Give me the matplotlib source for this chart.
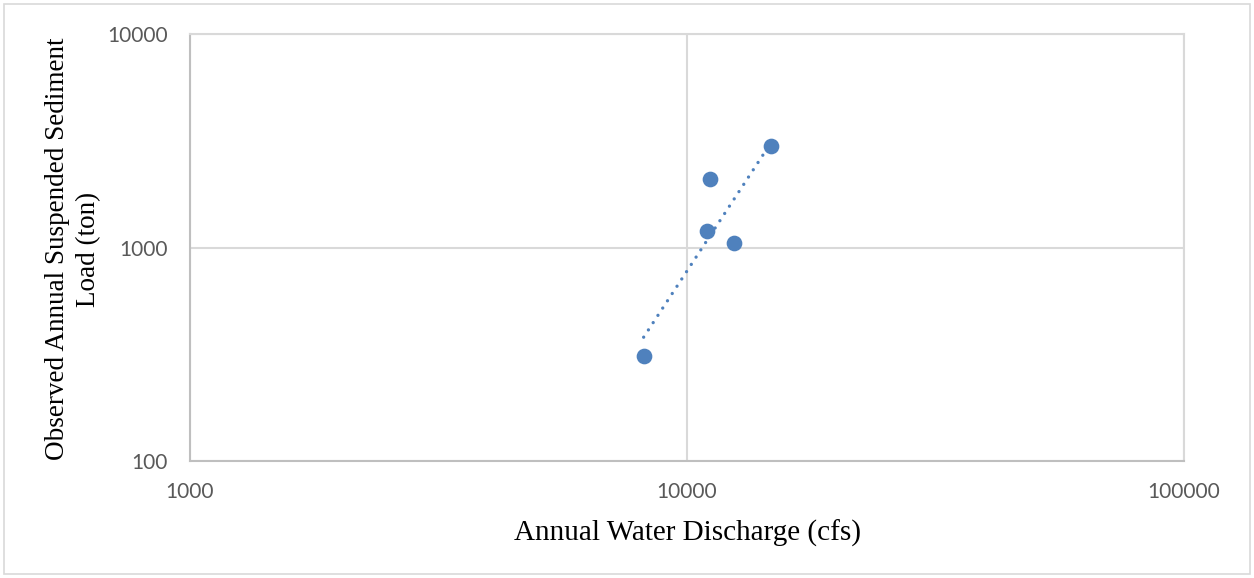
import numpy as np
import matplotlib
matplotlib.use("Agg")
import matplotlib.pyplot as plt
from matplotlib.patches import Rectangle

discharge = [8180, 10950, 11150, 12460, 14730]
sediment = [310, 1195, 2090, 1050, 2990]
x_ticks = [1000, 10000, 100000]
y_ticks = [100, 1000, 10000]

W, H = 1254, 578
fig = plt.figure(figsize=(W / 100, H / 100), dpi=100)
ax = fig.add_axes([190 / W, 1 - 461 / H, (1184 - 190) / W, (461 - 34) / H])

ax.set_xscale("log")
ax.set_yscale("log")
ax.set_xlim(1000, 100000)
ax.set_ylim(100, 10000)

ax.grid(True, which="major", color="#D9D9D9", linewidth=1.5)
ax.minorticks_off()
ax.set_xticks(x_ticks)
ax.set_yticks(y_ticks)
ax.set_xticklabels([str(v) for v in x_ticks])
ax.set_yticklabels([str(v) for v in y_ticks])
ax.tick_params(length=0, labelsize=15, labelcolor="#595959")
ax.tick_params(axis="x", pad=15)
ax.tick_params(axis="y", pad=16)
for lab in ax.get_xticklabels() + ax.get_yticklabels():
    lab.set_family("Lato")
for s in ax.spines.values():
    s.set_color("#D9D9D9")
    s.set_linewidth(1.5)
ax.spines["bottom"].set_color("#BFBFBF")
ax.spines["left"].set_color("#BFBFBF")

color = "#4F81BD"
# power trendline (fit on logs)
lx = np.log10(discharge)
ly = np.log10(sediment)
b, a = np.polyfit(lx, ly, 1)
xs = np.logspace(lx.min(), lx.max(), 100)
ax.plot(xs, 10 ** (a + b * np.log10(xs)), linestyle=(0, (0.01, 2.6)), color=color,
        linewidth=2.4, dash_capstyle="round", zorder=3)
ax.plot(discharge, sediment, "o", color=color, markersize=11.3, markeredgewidth=0, zorder=4)

fig.text(687 / W, 1 - 533 / H, "Annual Water Discharge (cfs)", family="Liberation Serif",
         fontsize=21, color="black", ha="center", va="center")
fig.text(73 / W, 1 - 249 / H, "Observed Annual Suspended Sediment\nLoad (ton)",
         family="Liberation Serif", fontsize=19.5, color="black", ha="center", va="center",
         rotation=90, multialignment="center", linespacing=1.3)

fig.patches.append(Rectangle((4 / W, 4 / H), (1250 - 4) / W, (574 - 4) / H,
                             transform=fig.transFigure, fill=False,
                             edgecolor="#D9D9D9", linewidth=1.2))

fig.savefig("out.png", dpi=100)
